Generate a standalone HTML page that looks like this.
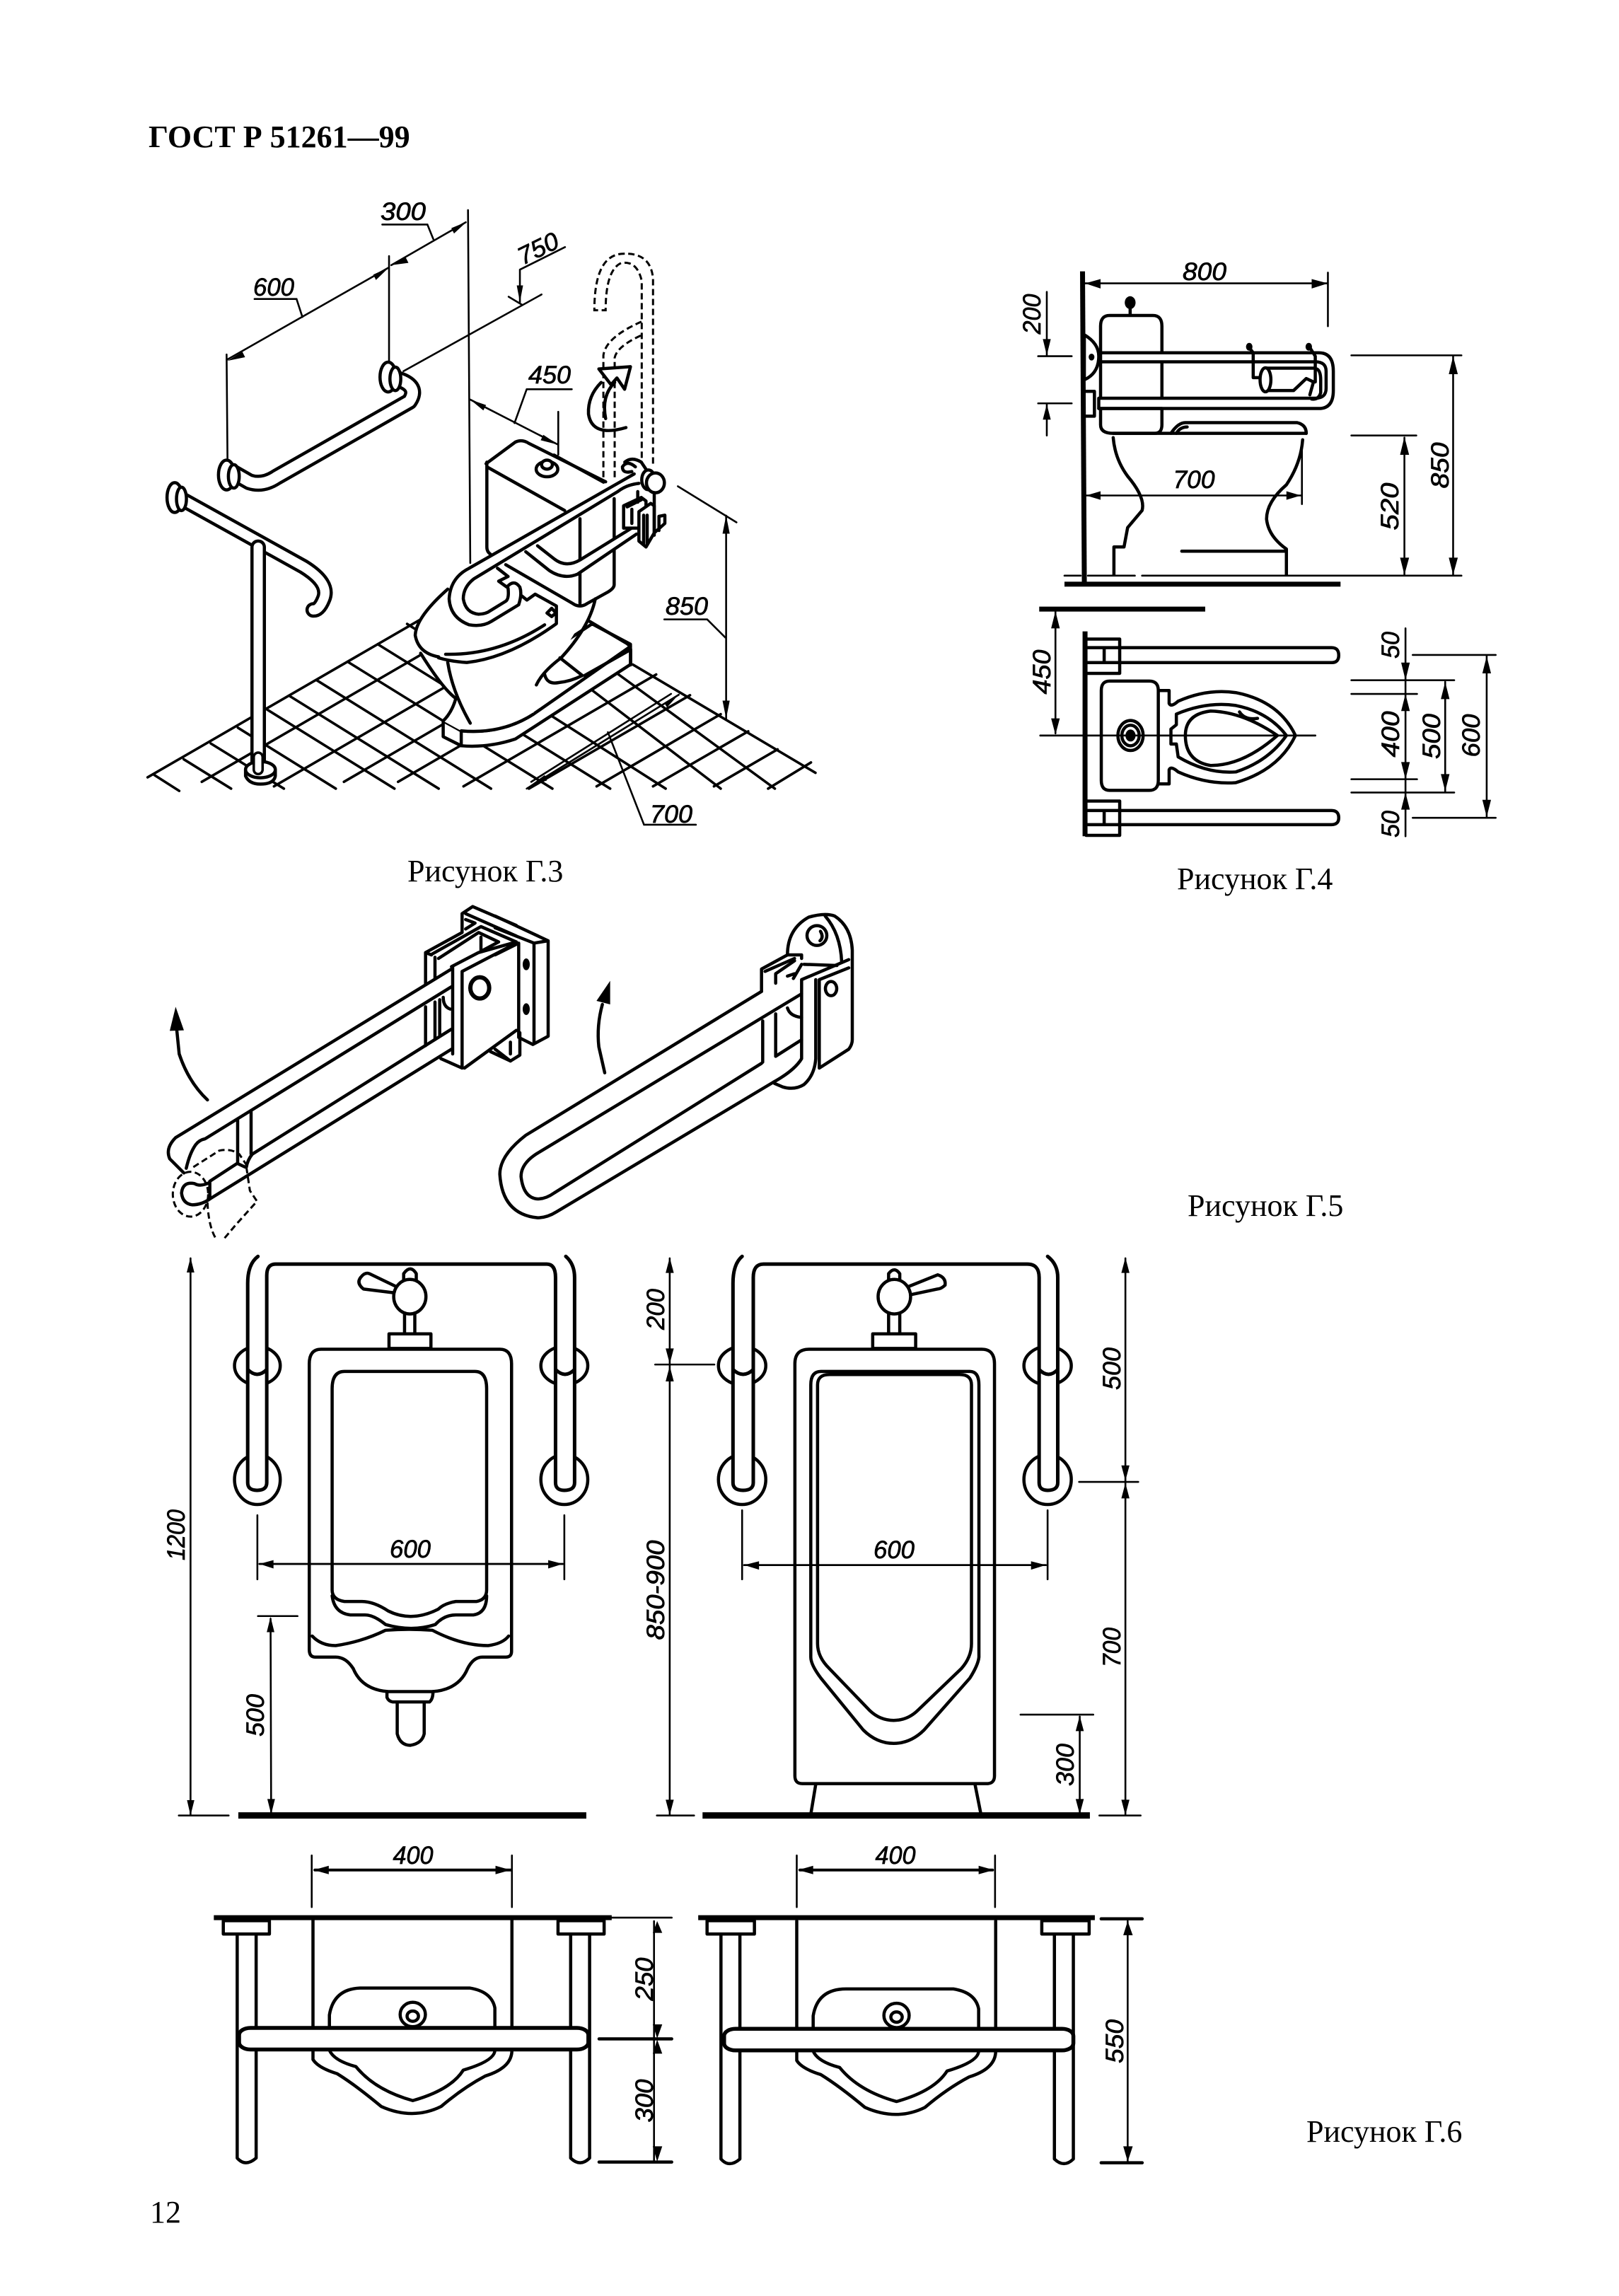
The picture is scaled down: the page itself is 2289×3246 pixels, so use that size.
<!DOCTYPE html>
<html lang="ru"><head><meta charset="utf-8"><title>ГОСТ Р 51261-99</title>
<style>
html,body{margin:0;padding:0;background:#fff}
svg{display:block}
svg *{vector-effect:non-scaling-stroke}
.l{fill:none;stroke:#000;stroke-width:4.5;stroke-linejoin:round;stroke-linecap:round}
.w{fill:#fff;stroke:#000;stroke-width:4.5;stroke-linejoin:round;stroke-linecap:round}
.d{fill:none;stroke:#000;stroke-width:2.6;stroke-linecap:round}
.h{fill:none;stroke:#000;stroke-width:7;stroke-linecap:butt}
.g{fill:none;stroke:#000;stroke-width:3.6;stroke-linecap:round}
.da{fill:none;stroke:#000;stroke-width:3;stroke-dasharray:9 5}
.a{fill:#000;stroke:none}
.n{fill:#fff;stroke:none}
.c{fill:none;stroke-linecap:round;stroke-linejoin:round}
text{fill:#000}
.cap{font-family:"Liberation Serif","Noto Serif CJK SC",serif;font-size:44px}
.dim{font-family:"Liberation Sans","DejaVu Sans",sans-serif;font-style:italic;font-size:35px;text-anchor:middle;stroke:#000;stroke-width:.7}
</style></head><body>
<svg xmlns="http://www.w3.org/2000/svg" width="2289" height="3246" viewBox="0 0 2289 3246">
<rect width="2289" height="3246" fill="#fff"/>

<!-- Г.3 -->
<g transform="translate(180 260) scale(.638 .638)">
<path class="g" d="M45,1315L650,965M165,1325L884,908M325,1335L969,961M480,1325L1036,1002M600,1325L1094,1038M745,1335L1172,1087M890,1340L1247,1133M1040,1335L1315,1175M1165,1335L1376,1213M1300,1335L1441,1253M1420,1340L1515,1282"/>
<path class="g" d="M60,1310L115,1345M125,1275L230,1340M185,1240L347,1340M245,1205L462,1340M310,1165L592,1340M360,1135L690,1340M420,1100L806,1340M490,1060L942,1340M555,1020L1070,1340M620,975L1193,1340M740,900L1315,1340M860,920L1435,1340M1120,1065L1525,1305"/>
<path class="d" d="M565,90H665L678,122M585,180L750,85M220,390L580,185M580,160V395M220,378L222,610M755,58L760,840M282,255H375L388,295M870,190L970,140M870,190V262M845,250L875,268M918,245L612,415M885,455H985M885,455L858,530M760,478L955,578M955,505V600M1220,670L1350,750M1327,735V1185M1190,965H1285L1325,1005M1145,1420H1260M1145,1420L1065,1215M895,1325L1205,1130M885,1340L1222,1132"/>
<polygon class="a" points="752,84 718,98 724,110"/><polygon class="a" points="585,180 617,163 623,175"/><polygon class="a" points="580,185 545,201 551,213"/><polygon class="a" points="222,392 255,372 261,384"/><polygon class="a" points="760,478 795,490 789,502"/><polygon class="a" points="955,578 922,556 916,568"/><polygon class="a" points="870,262 863,225 877,225"/><polygon class="a" points="1327,735 1319,775 1335,775"/><polygon class="a" points="1327,1185 1319,1145 1335,1145"/><polygon class="a" points="890,1335 925,1310 930,1322"/><polygon class="a" points="1225,1128 1190,1150 1196,1160"/>
<path class="c" stroke="#000" stroke-width="24" d="M590,430Q650,445 625,482L330,650Q300,670 270,660L235,640"/>
<path class="c" stroke="#fff" stroke-width="15" d="M590,430Q650,445 625,482L330,650Q300,670 270,660L235,640"/>
<ellipse class="w" cx="578" cy="428" rx="18" ry="33"/><ellipse class="w" cx="594" cy="432" rx="12" ry="26"/>
<ellipse class="w" cx="220" cy="645" rx="18" ry="33"/><ellipse class="w" cx="236" cy="648" rx="12" ry="26"/>
<path class="c" stroke="#000" stroke-width="22" d="M120,698L390,848Q450,885 435,920Q425,945 412,944"/>
<path class="c" stroke="#fff" stroke-width="13" d="M120,698L390,848Q450,885 435,920Q425,945 412,944"/>
<path class="c" stroke="#000" stroke-width="22" d="M290,805V1300"/><path class="c" stroke="#fff" stroke-width="13" d="M290,805V1300"/>
<path class="w" d="M262,1298V1312Q270,1330 295,1330Q325,1330 328,1312V1298"/><ellipse class="w" cx="295" cy="1298" rx="33" ry="18"/>
<path class="c" stroke="#000" stroke-width="16" d="M290,1270V1298"/><path class="c" stroke="#fff" stroke-width="9" d="M290,1270V1298"/>
<ellipse class="w" cx="105" cy="695" rx="17" ry="33"/><ellipse class="w" cx="120" cy="698" rx="11" ry="26"/>
<!-- plinth + bowl -->
<path class="w" d="M700,1190V1225L740,1245Q800,1250 860,1230L1115,1065V1020L1030,975L700,1190Z"/>
<path class="l" d="M700,1190L740,1212Q830,1220 900,1175L1115,1025M740,1212V1245"/>
<path class="n" d="M650,1040Q700,1120 728,1140Q720,1170 700,1190L740,1212Q830,1220 900,1175L905,1110L961,1045L1037,920L800,850Z"/>
<path class="l" d="M650,1040Q700,1120 728,1140Q720,1170 700,1190M710,1060Q720,1125 760,1195M740,1212Q830,1220 900,1175"/>
<path class="n" d="M710,898Q640,960 638,1000Q645,1040 690,1048Q850,1050 930,1000L950,930Z"/>
<path class="l" d="M710,898Q640,960 638,1000Q645,1040 690,1048"/>
<!-- tank top -->
<path class="n" d="M795,620L860,572Q875,565 890,575L1080,670V885L1010,935L839,843L795,810Z"/>
<path class="l" d="M795,620L860,572Q875,565 890,575L1060,660"/>
<ellipse class="w" cx="930" cy="632" rx="24" ry="17"/><ellipse class="w" cx="930" cy="622" rx="12" ry="10"/>
<!-- raised bar dashed -->
<path class="da" d="M1165,620V210Q1160,150 1095,155Q1035,160 1035,280H1060Q1060,190 1095,175Q1130,170 1140,215V620"/>
<path class="da" d="M1055,650V380Q1060,340 1140,305M1080,650V385Q1085,360 1140,335"/>
<path class="l" d="M1105,540Q1030,562 1022,510Q1020,470 1050,440M1060,520Q1050,470 1080,440"/>
<path class="w" d="M1045,410L1115,405L1102,455L1085,430L1072,445Z"/>
</g>
<!-- Г.3 toilet detail -->
<g transform="translate(620 640) scale(.33333)">
<path class="l" d="M205,40V400Q205,420 220,430M205,60L535,245M490,10L700,125M745,195V560Q745,575 720,590L630,640Q600,660 570,640L285,475M600,280V640"/>
<path class="c" stroke="#fff" stroke-width="14" d="M835,328L590,490Q535,515 480,480L395,408"/>
<path class="l" d="M370,420L470,500Q530,540 590,515L840,345M420,395L490,450Q540,490 600,455L835,310"/>
<path class="c" stroke="#fff" stroke-width="16" d="M825,110L140,510Q75,550 75,620Q85,705 150,708Q190,710 215,690L320,630"/>
<path class="l" d="M830,90L130,490Q50,530 45,620Q50,700 130,730Q185,740 225,715L340,645Q355,600 345,570Q320,535 290,570L255,545L295,525L250,490"/>
<path class="l" d="M850,130Q800,135 760,165L150,535Q105,570 105,620Q115,680 170,685Q200,685 220,670L285,630Q300,620 295,575"/>
<path class="l" d="M350,605L375,625L410,600L500,650V725Q300,870 120,890Q50,885 0,870M30,855Q250,860 450,730M460,680L480,660L498,680L480,695Z"/>
<path class="l" d="M665,620Q640,740 520,870Q440,930 415,985M515,870L610,945M450,940Q460,985 510,975Q560,970 610,945"/>
<path class="l" d="M640,715L800,810Q815,820 815,840V900M815,835L620,945"/>
<path class="l" d="M835,60Q800,30 780,60Q780,90 820,80M790,40Q820,15 860,40L880,70"/>
<path class="w" d="M785,225L860,190L880,205V320H785Z"/>
<path class="l" d="M800,230L860,200M820,240V300M845,165V210"/>
<ellipse class="w" cx="890" cy="115" rx="28" ry="42"/><ellipse class="w" cx="920" cy="128" rx="38" ry="42"/>
<path class="w" d="M850,250L900,215L915,225V340L880,400L850,375Z"/>
<path class="l" d="M870,265V390M885,265V390M915,170V350M915,340L960,300V265L935,270V330"/>
</g>

<!-- Г.4 -->
<g transform="translate(1380 340) scale(.5102 .6059)">
<path class="h" d="M295,72L300,800"/>
<path class="d" d="M300,100H975M975,75V200M196,120V268M196,380V455M172,270H265M172,380H265M305,595H900M903,470V615M1040,455H1220M1187,460V780M1040,268H1345M1322,270V780M245,782H290M310,782H440M460,782H1345"/>
<path class="h" d="M245,802H1010"/>
<path class="w" d="M300,220Q340,240 340,270Q340,310 300,325Z"/><circle class="a" cx="320" cy="272" r="8"/>
<path class="l" d="M305,352H328V410H305"/>
<path class="w" d="M345,200Q345,175 370,175H490Q515,175 515,200V430Q515,450 495,450H380Q345,450 345,430Z"/>
<circle class="a" cx="427" cy="145" r="15"/><path class="l" d="M427,150V172"/>
<path class="w" d="M345,262H950Q990,262 990,305V350Q990,392 950,392H340V368H940Q970,368 970,345V305Q970,283 940,283H345Z"/>
<path class="l" d="M345,262H515M340,392H515M945,300Q955,305 955,325V355Q950,372 930,370"/>
<circle class="a" cx="757" cy="248" r="9"/><circle class="a" cx="922" cy="248" r="9"/>
<path class="l" d="M757,250L768,262V320H790M925,250L940,270V330M805,298H935M808,350H880L915,322L935,330L925,360"/>
<ellipse class="w" cx="802" cy="325" rx="15" ry="28"/>
<path class="l" d="M540,450Q560,425 580,425H890Q915,430 915,450M555,450Q565,435 585,435"/>
<path class="l" d="M380,450H915M380,460Q385,510 420,550Q470,600 460,630Q440,650 420,670L410,715H382V780M905,465Q900,520 860,570Q805,610 805,650Q810,690 860,720V780M570,725H860"/>
<path class="a" d="M302,100l43,-10v22zM975,100l-45,-10v22zM196,268l-11,-38h22zM196,382l-11,36h22zM305,595l40,-10v20zM900,595l-40,-10v20zM1187,458l-12,42h25zM1187,780l-12,-40h25zM1322,270l-12,42h25zM1322,780l-12,-40h25z"/>
<path class="h" d="M175,860H635"/>
<path class="d" d="M220,865V1150M178,1155H940"/>
<path class="h" d="M302,912V1390"/>
<path class="l" d="M305,930H398V1010H305M310,950H355V985H310M355,950H985Q1005,950 1005,968Q1005,985 985,985H355M305,1308H398V1388H305M310,1330H355V1363H310M355,1330H985Q1005,1330 1005,1347Q1005,1363 985,1363H355"/>
<path class="l" d="M505,1050H535V1080Q540,1090 560,1075Q640,1045 720,1055Q840,1075 885,1155Q840,1235 720,1265Q640,1270 560,1240Q540,1225 535,1235V1268H505"/>
<path class="l" d="M555,1105Q640,1075 720,1085Q810,1100 860,1155Q810,1215 720,1240Q640,1245 560,1205L555,1175L540,1175V1140L555,1130Z"/>
<path class="l" d="M580,1155Q580,1105 650,1098Q740,1100 835,1155Q740,1225 650,1225Q580,1215 580,1155M730,1100Q745,1120 780,1115"/>
<path class="w" d="M347,1050Q347,1028 370,1028H480Q505,1028 505,1050V1260Q505,1283 480,1283H370Q347,1283 347,1260Z"/>
<circle class="l" cx="428" cy="1155" r="35"/><circle class="l" cx="428" cy="1155" r="24"/><circle class="a" cx="428" cy="1155" r="14"/>
<path class="d" d="M178,1155H940"/>
<path class="d" d="M1210,967H1440M1040,1026H1325M1040,1058H1222M1040,1257H1222M1040,1288H1325M1210,1347H1440M1190,905V1390M1300,1030V1285M1415,970V1345"/>
<path class="a" d="M220,865l-12,40h24zM220,1153l-12,-38h24zM1190,1026l-12,-41h24zM1190,1058l-12,40h24zM1190,1257l-12,-40h24zM1190,1288l-12,40h24zM1300,1030l-12,40h24zM1300,1285l-12,-40h24zM1415,970l-12,40h24zM1415,1345l-12,-40h24z"/>
</g>

<!-- Г.5 left -->
<g transform="translate(210 1270) scale(.33333)">
<path class="l" d="M150,1165L90,1105Q70,1060 115,1015L1285,300M160,1145Q175,1080 200,1045Q215,1025 240,1020L1285,375M440,1085L1285,555M260,1275L1285,640M260,1200L375,1125M378,940V1125L410,1140M435,905V1085M440,1085Q420,1110 415,1140"/>
<path class="l" d="M260,1205Q220,1225 195,1210Q145,1200 140,1250Q145,1295 185,1300Q225,1300 260,1275V1205"/>
<ellipse class="da" cx="178" cy="1255" rx="75" ry="95"/>
<path class="da" d="M190,1140L300,1070Q350,1060 385,1085L415,1130M415,1140L430,1240L460,1285L370,1385L315,1450M250,1290Q255,1400 290,1450"/>
<path class="l" d="M250,855Q170,780 130,660L120,560"/><polygon class="a" points="115,460 90,562 150,560"/>
<path class="l" d="M1175,230V365M1175,460V625M1215,250V340M1215,440V595M1235,430V580M1175,230L1330,145M1175,230L1200,240M1200,238L1410,120L1560,185M1230,255L1400,145L1485,185L1410,225V165M1330,145V65L1375,35L1560,115M1345,65L1560,160M1345,90L1385,105L1345,130"/>
<path class="l" d="M1285,290L1400,230L1560,185M1330,310L1560,190M1330,310V720M1290,290V660M1330,720L1240,680M1340,720L1560,560M1450,650L1535,690M1250,420Q1250,460 1280,470"/>
<ellipse class="l" cx="1405" cy="380" rx="40" ry="45" style="stroke-width:6"/>
</g>
<g transform="translate(700 1270) scale(.33333)">
<path class="l" d="M0,75L225,180V585L160,620L100,590V190L0,240M0,125L165,190L225,180M165,190V610M0,640L65,690L105,665V570M65,610V660"/>
<ellipse class="a" cx="132" cy="280" rx="15" ry="25"/><ellipse class="a" cx="132" cy="470" rx="15" ry="25"/>
<path class="l" d="M1130,395L130,1005Q20,1090 20,1170Q30,1340 180,1355Q220,1355 260,1330L1180,780Q1270,730 1300,680V345L1500,260"/>
<path class="l" d="M1300,405L190,1075Q110,1120 110,1180Q120,1270 180,1275Q215,1275 250,1250L1130,700M1190,670L1300,600"/>
<path class="l" d="M1360,345V680Q1355,750 1310,790Q1270,815 1220,800L1185,785M1375,350V720L1500,640Q1515,620 1515,600V220Q1510,120 1440,75Q1400,60 1330,80Q1240,130 1240,240H1300V255M1400,75Q1465,150 1470,270M1375,345L1500,295"/>
<circle class="l" cx="1365" cy="158" r="42"/><path class="l" d="M1380,140Q1395,165 1378,180"/>
<ellipse class="l" cx="1425" cy="383" rx="24" ry="30"/>
<path class="l" d="M1130,395V300L1240,240M1145,310L1270,255M1190,320V360M1190,320L1270,265M1240,330L1270,320M1310,280L1450,285M1265,340L1300,280M1135,520V695M1190,490V670M1240,465Q1250,500 1300,505"/>
<path class="l" d="M465,740L440,630Q430,540 455,450"/><polygon class="a" points="488,350 430,435 488,450"/>
</g>

<!-- Г.6 left elevation -->
<g transform="translate(230 1760) scale(.4145 .5421)">
<path class="d" d="M95,35V1488M55,1488H225M323,705V872M1370,705V872M330,832H1365M325,968H460M368,975L370,1485"/>
<path class="h" d="M258,1488H1445" style="stroke-width:9"/>
<ellipse class="w" cx="323" cy="612" rx="78" ry="65"/><ellipse class="w" cx="323" cy="315" rx="78" ry="50"/>
<ellipse class="w" cx="1370" cy="612" rx="80" ry="65"/><ellipse class="w" cx="1370" cy="315" rx="80" ry="50"/>
<rect class="n" x="290" y="240" width="65" height="390"/><rect class="n" x="1340" y="240" width="65" height="390"/>
<path class="l" d="M325,30Q290,50 290,100V620Q290,640 322,640Q355,640 355,620V80Q355,50 385,50H1310Q1340,50 1340,85V620Q1340,640 1370,640Q1405,640 1405,620V85Q1405,50 1375,30M290,325Q322,350 355,325M1340,325Q1372,350 1405,325" style="stroke-width:5"/>
<path class="w" d="M790,125L685,115Q660,100 675,85Q690,70 705,75L800,110"/>
<path class="l" d="M822,95V75Q845,50 865,75V95M825,175V230M860,175V230"/>
<ellipse class="w" cx="843" cy="135" rx="55" ry="45"/>
<rect class="l" x="772" y="232" width="143" height="38"/>
<path class="l" d="M500,310Q500,272 540,272H1150Q1190,272 1190,310V1060Q1190,1075 1170,1075H1090Q1060,1075 1040,1105Q1010,1160 920,1165H770Q680,1160 650,1105Q625,1075 590,1075H520Q500,1075 500,1055Z"/>
<path class="l" d="M578,375Q578,330 620,330H1065Q1105,330 1105,375V900Q1105,925 1070,930H1000Q960,935 940,950Q850,985 770,955Q720,930 680,930H620Q578,925 578,900Z"/>
<path class="l" d="M578,915Q585,960 640,965H690Q720,965 760,990Q850,1010 930,990Q960,965 1000,965H1060Q1105,960 1105,915M510,1020Q540,1045 590,1045Q680,1035 760,1005Q840,1000 920,1005Q1020,1045 1110,1045Q1160,1040 1180,1020"/>
<path class="l" d="M765,1165V1180Q770,1190 785,1192H910Q922,1185 922,1165M800,1192V1275Q810,1305 845,1305Q885,1300 892,1275V1192"/>
<path class="d" d="M330,832H1365"/>
<path class="a" d="M95,33l-13,39h26zM95,1488l-12,-40h25zM330,832l48,-10v22zM1365,832l-50,-10v22zM368,970l-13,40h26zM370,1485l-13,-40h26z"/>
</g>

<!-- Г.6 right elevation -->
<g transform="translate(900 1760) scale(.4783 .5421)">
<path class="d" d="M98,35V1485M55,312H230M60,1488H170M312,692V872M1215,692V872M318,835H1210M1135,1225H1350M1310,1230V1485M1445,35V1485M1308,618H1483M1368,1488H1490"/>
<path class="h" d="M195,1488H1340" style="stroke-width:9"/>
<ellipse class="w" cx="312" cy="612" rx="70" ry="65"/><ellipse class="w" cx="312" cy="315" rx="70" ry="50"/>
<ellipse class="w" cx="1215" cy="612" rx="70" ry="65"/><ellipse class="w" cx="1215" cy="315" rx="70" ry="50"/>
<rect class="n" x="285" y="240" width="60" height="390"/><rect class="n" x="1190" y="240" width="55" height="390"/>
<path class="l" d="M312,30Q285,50 285,100V620Q285,640 315,640Q345,640 345,620V85Q345,50 375,50H1155Q1190,50 1190,85V620Q1190,640 1215,640Q1245,640 1245,620V85Q1245,50 1215,30M285,325Q315,350 345,325M1190,325Q1218,350 1245,325" style="stroke-width:5"/>
<path class="w" d="M800,110L890,78Q915,85 912,105Q900,115 890,115L810,130"/>
<path class="l" d="M745,95V75Q762,55 778,75V95M745,180V230M778,180V230"/>
<ellipse class="w" cx="762" cy="135" rx="48" ry="45"/>
<rect class="l" x="698" y="232" width="127" height="38"/>
<path class="l" d="M468,310Q468,272 510,272H1020Q1058,272 1058,310V1385Q1058,1405 1035,1405H490Q468,1405 468,1385ZM530,1405L515,1485M1000,1405L1018,1485"/>
<path class="l" d="M515,365Q515,330 545,330H985Q1012,330 1012,365V1075Q1010,1095 985,1130L850,1265Q810,1300 760,1300Q710,1300 670,1265L545,1130Q515,1095 515,1075Z"/>
<path class="l" d="M535,365Q535,338 570,338H955Q990,338 990,365V1040Q990,1075 960,1105L830,1215Q800,1240 760,1240Q720,1240 690,1215L570,1105Q535,1075 535,1040Z"/>
<path class="d" d="M318,835H1210"/>
<path class="a" d="M98,33l-12,40h24zM98,310l-12,-40h24zM98,316l-12,40h24zM98,1487l-12,-40h24zM1445,33l-12,40h24zM1445,615l-12,-40h24zM1445,621l-12,40h24zM1445,1487l-12,-40h24zM318,835l44,-10v22zM1210,835l-44,-10v22zM1310,1228l-12,40h24zM1310,1485l-12,-40h24z"/>
</g>

<!-- Г.6 plan -->
<g transform="translate(280 2600) scale(.8929 .3316)">
<path class="h" d="M25,335H655M792,335H1420"/>
<path class="d" d="M655,335H750M180,70V290M497,70V290M948,70V290M1262,70V290M722,350V1370M1472,350V1375"/>
<path class="l" d="M1430,340H1495M1430,1380H1495M635,852H750M635,1377H750"/>
<path class="l" d="M185,132H495M953,132H1258" style="stroke-width:4"/>
<g>
<path class="l" d="M182,345V805M497,345V805"/>
<path class="l" d="M62,405V1360Q75,1400 92,1360V405M590,405V1360Q605,1400 620,1360V405"/>
<rect class="w" x="40" y="348" width="73" height="57"/><rect class="w" x="570" y="348" width="73" height="57"/>
<path class="l" d="M208,805V750Q215,635 260,635H430Q465,650 470,720V805"/>
<ellipse class="l" cx="340" cy="748" rx="20" ry="52"/><ellipse class="l" cx="340" cy="755" rx="9" ry="22"/>
<rect class="w" x="65" y="805" width="553" height="92" rx="18" ry="30" style="stroke-width:5.5"/>
<path class="l" d="M182,900V940Q190,975 220,1000Q250,1050 290,1140Q340,1200 385,1140Q420,1060 455,1010Q497,975 497,900M208,900Q215,945 250,970Q280,1070 340,1115Q400,1070 420,985Q470,945 470,900"/>
</g>
<g transform="translate(766 4)">
<path class="l" d="M182,345V805M497,345V805"/>
<path class="l" d="M62,405V1360Q75,1400 92,1360V405M590,405V1360Q605,1400 620,1360V405"/>
<rect class="w" x="40" y="344" width="75" height="57"/><rect class="w" x="570" y="344" width="75" height="57"/>
<path class="l" d="M208,805V750Q215,635 260,635H430Q465,650 470,720V805"/>
<ellipse class="l" cx="340" cy="748" rx="20" ry="52"/><ellipse class="l" cx="340" cy="755" rx="9" ry="22"/>
<rect class="w" x="67" y="805" width="553" height="92" rx="18" ry="30" style="stroke-width:5.5"/>
<path class="l" d="M182,900V940Q190,975 220,1000Q250,1050 290,1140Q340,1200 385,1140Q420,1060 455,1010Q497,975 497,900M208,900Q215,945 250,970Q280,1070 340,1115Q400,1070 420,985Q470,945 470,900"/>
</g>
<path class="a" d="M183,132l24,-18v36zM495,132l-24,-18v36zM950,132l24,-18v36zM1260,132l-24,-18v36zM727,350l-7,50h15zM727,850l-7,-60h15zM727,855l-7,60h15zM727,1375l-7,-65h15zM1472,350l-7,60h15zM1472,1375l-7,-65h15z"/>
</g>

<!-- text -->
<text x="210" y="208" font-family="Liberation Serif, serif" font-weight="700" font-size="44">ГОСТ Р 51261—99</text>
<text class="cap" x="576" y="1246">Рисунок Г.3</text>
<text class="cap" x="1664" y="1257">Рисунок Г.4</text>
<text class="cap" x="1679" y="1719">Рисунок Г.5</text>
<text class="cap" x="1847" y="3028">Рисунок Г.6</text>
<text class="cap" x="212" y="3142">12</text>

<text class="dim" x="570" y="311" textLength="64" lengthAdjust="spacingAndGlyphs">300</text>
<text class="dim" x="387" y="418" textLength="58" lengthAdjust="spacingAndGlyphs">600</text>
<text class="dim" transform="translate(766 362) rotate(-26)" textLength="60" lengthAdjust="spacingAndGlyphs">750</text>
<text class="dim" x="777" y="542" textLength="60" lengthAdjust="spacingAndGlyphs">450</text>
<text class="dim" x="971" y="869" textLength="60" lengthAdjust="spacingAndGlyphs">850</text>
<text class="dim" x="949" y="1163" textLength="60" lengthAdjust="spacingAndGlyphs">700</text>

<text class="dim" x="1703" y="396" textLength="62" lengthAdjust="spacingAndGlyphs">800</text>
<text class="dim" x="1688" y="690" textLength="59" lengthAdjust="spacingAndGlyphs">700</text>
<text class="dim" transform="translate(1471 444) rotate(-90)" textLength="57" lengthAdjust="spacingAndGlyphs">200</text>
<text class="dim" transform="translate(1977 716) rotate(-90)" textLength="67" lengthAdjust="spacingAndGlyphs">520</text>
<text class="dim" transform="translate(2048 658) rotate(-90)" textLength="65" lengthAdjust="spacingAndGlyphs">850</text>
<text class="dim" transform="translate(1485 950) rotate(-90)" textLength="63" lengthAdjust="spacingAndGlyphs">450</text>
<text class="dim" transform="translate(1978 912) rotate(-90)" textLength="38" lengthAdjust="spacingAndGlyphs">50</text>
<text class="dim" transform="translate(1978 1038) rotate(-90)" textLength="65" lengthAdjust="spacingAndGlyphs">400</text>
<text class="dim" transform="translate(2036 1041) rotate(-90)" textLength="64" lengthAdjust="spacingAndGlyphs">500</text>
<text class="dim" transform="translate(2092 1040) rotate(-90)" textLength="61" lengthAdjust="spacingAndGlyphs">600</text>
<text class="dim" transform="translate(1978 1165) rotate(-90)" textLength="38" lengthAdjust="spacingAndGlyphs">50</text>

<text class="dim" transform="translate(261 2170) rotate(-90)" textLength="72" lengthAdjust="spacingAndGlyphs">1200</text>
<text class="dim" x="580" y="2202" textLength="58" lengthAdjust="spacingAndGlyphs">600</text>
<text class="dim" transform="translate(373 2425) rotate(-90)" textLength="60" lengthAdjust="spacingAndGlyphs">500</text>

<text class="dim" transform="translate(939 1851) rotate(-90)" textLength="58" lengthAdjust="spacingAndGlyphs">200</text>
<text class="dim" transform="translate(939 2248) rotate(-90)" textLength="141" lengthAdjust="spacingAndGlyphs">850-900</text>
<text class="dim" x="1264" y="2203" textLength="58" lengthAdjust="spacingAndGlyphs">600</text>
<text class="dim" transform="translate(1518 2495) rotate(-90)" textLength="60" lengthAdjust="spacingAndGlyphs">300</text>
<text class="dim" transform="translate(1584 1935) rotate(-90)" textLength="60" lengthAdjust="spacingAndGlyphs">500</text>
<text class="dim" transform="translate(1584 2329) rotate(-90)" textLength="56" lengthAdjust="spacingAndGlyphs">700</text>

<text class="dim" x="584" y="2635" textLength="57" lengthAdjust="spacingAndGlyphs">400</text>
<text class="dim" x="1266" y="2635" textLength="57" lengthAdjust="spacingAndGlyphs">400</text>
<text class="dim" transform="translate(923 2798) rotate(-90)" textLength="61" lengthAdjust="spacingAndGlyphs">250</text>
<text class="dim" transform="translate(923 2970) rotate(-90)" textLength="61" lengthAdjust="spacingAndGlyphs">300</text>
<text class="dim" transform="translate(1588 2886) rotate(-90)" textLength="62" lengthAdjust="spacingAndGlyphs">550</text>
</svg>
</body></html>
